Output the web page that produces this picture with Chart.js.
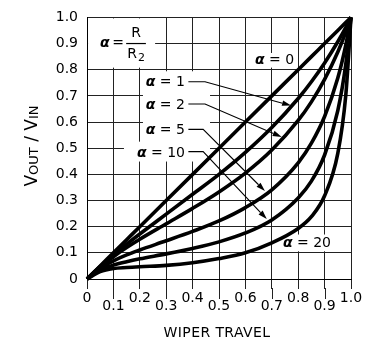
<!DOCTYPE html>
<html>
<head>
<meta charset="utf-8">
<script src="https://cdn.jsdelivr.net/npm/chart.js@4.4.1/dist/chart.umd.min.js"></script>
<style>
  html, body { margin: 0; padding: 0; background: #fff; overflow: hidden; }
  canvas { display: block; }
</style>
</head>
<body>
<canvas id="chart" width="369" height="341"></canvas>
<script>
// Wiper position along the track (fraction of full travel)
const wiperTravel = [0, 0.05, 0.1, 0.15, 0.2, 0.3, 0.4, 0.5, 0.6, 0.7, 0.8, 0.85, 0.9, 0.95, 0.98, 1.0];

// Output ratio Vout/Vin for each load ratio alpha = R/R2
const ratioAlpha0  = [0, 0.05, 0.1, 0.15, 0.2, 0.3, 0.4, 0.5, 0.6, 0.7, 0.8, 0.85, 0.9, 0.95, 0.98, 1.0];
const ratioAlpha1  = [0, 0.048, 0.092, 0.133, 0.172, 0.248, 0.324, 0.40, 0.484, 0.579, 0.69, 0.754, 0.826, 0.907, 0.961, 1.0];
const ratioAlpha2  = [0, 0.046, 0.085, 0.12, 0.152, 0.211, 0.27, 0.333, 0.405, 0.493, 0.606, 0.677, 0.763, 0.868, 0.943, 1.0];
const ratioAlpha5  = [0, 0.04, 0.069, 0.092, 0.111, 0.146, 0.182, 0.222, 0.273, 0.341, 0.444, 0.519, 0.621, 0.768, 0.893, 1.0];
const ratioAlpha10 = [0, 0.034, 0.053, 0.066, 0.077, 0.096, 0.117, 0.142, 0.176, 0.226, 0.31, 0.374, 0.474, 0.644, 0.819, 1.0];
const ratioAlpha20 = [0, 0.028, 0.04, 0.044, 0.047, 0.052, 0.062, 0.078, 0.1, 0.138, 0.193, 0.238, 0.318, 0.48, 0.70, 1.0];

const seriesValues = [ratioAlpha0, ratioAlpha1, ratioAlpha2, ratioAlpha5, ratioAlpha10, ratioAlpha20];
const alphaValues = ['0', '1', '2', '5', '10', '20'];

// Axis tick labels, 0 to 1.0 in steps of 0.1
const tickLabels = ['0', '0.1', '0.2', '0.3', '0.4', '0.5', '0.6', '0.7', '0.8', '0.9', '1.0'];

const FONT = 'DejaVu Sans';

// Curve callouts, in data units: anchor point and text alignment
const curveLabels = [
  { alpha: '0',  at: [0.636, 0.834], align: 'left' },
  { alpha: '1',  at: [0.371, 0.751], align: 'right' },
  { alpha: '2',  at: [0.371, 0.664], align: 'right' },
  { alpha: '5',  at: [0.371, 0.570], align: 'right' },
  { alpha: '10', at: [0.371, 0.479], align: 'right' },
  { alpha: '20', at: [0.742, 0.136], align: 'left' }
];

// Leader arrows from the callouts to their curves
const leaders = [
  { from: [0.384, 0.754], elbow: [0.447, 0.754], tip: [0.773, 0.663] },
  { from: [0.384, 0.669], elbow: [0.447, 0.669], tip: [0.7375, 0.543] },
  { from: [0.384, 0.572], elbow: [0.440, 0.572], tip: [0.674, 0.336] },
  { from: [0.384, 0.487], elbow: [0.440, 0.487], tip: [0.681, 0.229] }
];

// Clear areas behind the text blocks (x0, y0, x1, y1 in data units)
const clearBoxes = [
  [0.004, 0.996, 0.258, 0.808],
  [0.212, 0.794, 0.466, 0.449],
  [0.140, 0.525, 0.212, 0.449],
  [0.625, 0.864, 0.792, 0.808],
  [0.731, 0.170, 0.943, 0.106]
];

function toPx(chart, x, y) {
  return [chart.scales.x.getPixelForValue(x), chart.scales.y.getPixelForValue(y)];
}

function drawAlphaText(ctx, label, x, y, align) {
  const greekFont = 'bold italic 14px "' + FONT + '"';
  const plainFont = '14px "' + FONT + '"';
  const rest = ' = ' + label;
  ctx.font = greekFont;
  const wg = ctx.measureText('α').width;
  ctx.font = plainFont;
  const wr = ctx.measureText(rest).width;
  const start = align === 'right' ? x - wg - wr : x;
  ctx.textAlign = 'left';
  ctx.textBaseline = 'middle';
  ctx.fillStyle = '#000';
  ctx.font = greekFont;
  ctx.fillText('α', start, y);
  ctx.font = plainFont;
  ctx.fillText(rest, start + wg, y);
}

const annotations = {
  id: 'annotations',
  beforeDatasetsDraw(chart) {
    const ctx = chart.ctx;
    ctx.save();
    ctx.fillStyle = '#fff';
    clearBoxes.forEach(b => {
      const [x0, y0] = toPx(chart, b[0], b[1]);
      const [x1, y1] = toPx(chart, b[2], b[3]);
      ctx.fillRect(x0, y0, x1 - x0, y1 - y0);
    });
    ctx.restore();
  },
  afterDatasetsDraw(chart) {
    const ctx = chart.ctx;
    ctx.save();

    // curve callouts
    curveLabels.forEach(l => {
      const [x, y] = toPx(chart, l.at[0], l.at[1]);
      drawAlphaText(ctx, l.alpha, x, y, l.align);
    });

    // leader lines with filled arrowheads
    ctx.strokeStyle = '#000';
    ctx.fillStyle = '#000';
    ctx.lineWidth = 1.1;
    leaders.forEach(ld => {
      const [fx, fy] = toPx(chart, ld.from[0], ld.from[1]);
      const [ex, ey] = toPx(chart, ld.elbow[0], ld.elbow[1]);
      const [tx, ty] = toPx(chart, ld.tip[0], ld.tip[1]);
      const ang = Math.atan2(ty - ey, tx - ex);
      const len = 9, half = 2.8;
      const bx = tx - len * Math.cos(ang), by = ty - len * Math.sin(ang);
      ctx.beginPath();
      ctx.moveTo(fx, fy);
      ctx.lineTo(ex, ey);
      ctx.lineTo(bx, by);
      ctx.stroke();
      ctx.beginPath();
      ctx.moveTo(tx, ty);
      ctx.lineTo(bx + half * Math.sin(ang), by - half * Math.cos(ang));
      ctx.lineTo(bx - half * Math.sin(ang), by + half * Math.cos(ang));
      ctx.closePath();
      ctx.fill();
    });

    // definition of alpha: α = R / R2
    const [ax, ay] = toPx(chart, 0.049, 0.902);
    ctx.textBaseline = 'middle';
    ctx.textAlign = 'left';
    ctx.font = 'bold italic 14px "' + FONT + '"';
    ctx.fillText('α', ax, ay);
    ctx.font = '14px "' + FONT + '"';
    const eqX = ax + ctx.measureText('α').width + 13;
    ctx.fillText('=', eqX - 10, ay);
    const fracL = eqX + 4;
    ctx.font = '14px "' + FONT + '"';
    const wR = ctx.measureText('R').width;
    ctx.font = '11px "' + FONT + '"';
    const w2 = ctx.measureText('2').width;
    const fracW = wR + w2 + 3;
    ctx.lineWidth = 1.2;
    ctx.beginPath();
    ctx.moveTo(fracL, ay + 0.5);
    ctx.lineTo(fracL + fracW, ay + 0.5);
    ctx.stroke();
    ctx.font = '14px "' + FONT + '"';
    ctx.textAlign = 'center';
    ctx.fillText('R', fracL + fracW / 2, ay - 10);
    ctx.textAlign = 'left';
    ctx.fillText('R', fracL + 1, ay + 11);
    ctx.font = '11px "' + FONT + '"';
    ctx.fillText('2', fracL + 1 + wR + 1, ay + 15);

    ctx.restore();
  },
  afterDraw(chart) {
    const ctx = chart.ctx;
    const area = chart.chartArea;
    const xs = chart.scales.x;
    ctx.save();

    // longer tick marks under the lower row of labels
    ctx.strokeStyle = '#222';
    ctx.lineWidth = 1;
    xs.ticks.forEach((t, i) => {
      if (i % 2 === 1) {
        const x = Math.round(xs.getPixelForValue(t.value)) + 0.5;
        ctx.beginPath();
        ctx.moveTo(x, area.bottom + 9);
        ctx.lineTo(x, area.bottom + 20);
        ctx.stroke();
      }
    });

    // x axis title
    ctx.fillStyle = '#000';
    ctx.font = '14px "' + FONT + '"';
    ctx.textAlign = 'center';
    ctx.textBaseline = 'middle';
    if ('letterSpacing' in ctx) ctx.letterSpacing = '0.4px';
    ctx.fillText('WIPER TRAVEL', (area.left + area.right) / 2 - 2, 333);
    if ('letterSpacing' in ctx) ctx.letterSpacing = '0px';

    // y axis title: V_OUT / V_IN, rotated
    const parts = [
      { t: 'V', f: '17px', dy: 0 },
      { t: 'OUT', f: '13px', dy: 1 },
      { t: ' / ', f: '17px', dy: 0 },
      { t: 'V', f: '17px', dy: 0 },
      { t: 'IN', f: '13px', dy: 1 }
    ];
    let total = 0;
    parts.forEach(p => { ctx.font = p.f + ' "' + FONT + '"'; p.w = ctx.measureText(p.t).width; total += p.w; });
    ctx.translate(37, 146 + total / 2);
    ctx.rotate(-Math.PI / 2);
    ctx.textAlign = 'left';
    ctx.textBaseline = 'alphabetic';
    let cx = 0;
    parts.forEach(p => {
      ctx.font = p.f + ' "' + FONT + '"';
      ctx.fillText(p.t, cx, p.dy);
      cx += p.w;
    });

    ctx.restore();
  }
};

const datasets = seriesValues.map((vals, k) => ({
  label: 'α = ' + alphaValues[k],
  data: wiperTravel.map((x, i) => ({ x: x, y: vals[i] })),
  borderColor: '#000',
  borderWidth: 3.6,
  pointRadius: 0,
  fill: false,
  cubicInterpolationMode: 'monotone',
  clip: false
}));

new Chart(document.getElementById('chart'), {
  type: 'line',
  data: { datasets: datasets },
  options: {
    responsive: false,
    animation: false,
    devicePixelRatio: 1,
    layout: { padding: { left: 0, right: 18, top: 14, bottom: 0 } },
    plugins: { legend: { display: false }, tooltip: { enabled: false } },
    scales: {
      x: {
        type: 'linear',
        min: 0,
        max: 1,
        afterBuildTicks: s => { s.ticks = tickLabels.map((_, i) => ({ value: i / 10 })); },
        afterFit: s => { s.height = 62; },
        ticks: {
          autoSkip: false,
          maxRotation: 0,
          padding: 5,
          color: '#000',
          font: { family: FONT, size: 14, lineHeight: '8px' },
          callback: (v, i) => (i % 2 === 1 ? ['', tickLabels[i]] : tickLabels[i])
        },
        grid: { color: '#222', lineWidth: 1, drawTicks: true, tickLength: 10, tickColor: '#222' },
        border: { color: '#000', width: 1 }
      },
      y: {
        type: 'linear',
        min: 0,
        max: 1,
        afterBuildTicks: s => { s.ticks = tickLabels.map((_, i) => ({ value: i / 10 })); },
        afterFit: s => { s.width = 87; },
        ticks: {
          padding: 9,
          color: '#000',
          font: { family: FONT, size: 14 },
          callback: (v, i) => tickLabels[i]
        },
        grid: { color: '#222', lineWidth: 1, drawTicks: false },
        border: { color: '#000', width: 1 }
      }
    }
  },
  plugins: [annotations]
});
</script>
</body>
</html>
